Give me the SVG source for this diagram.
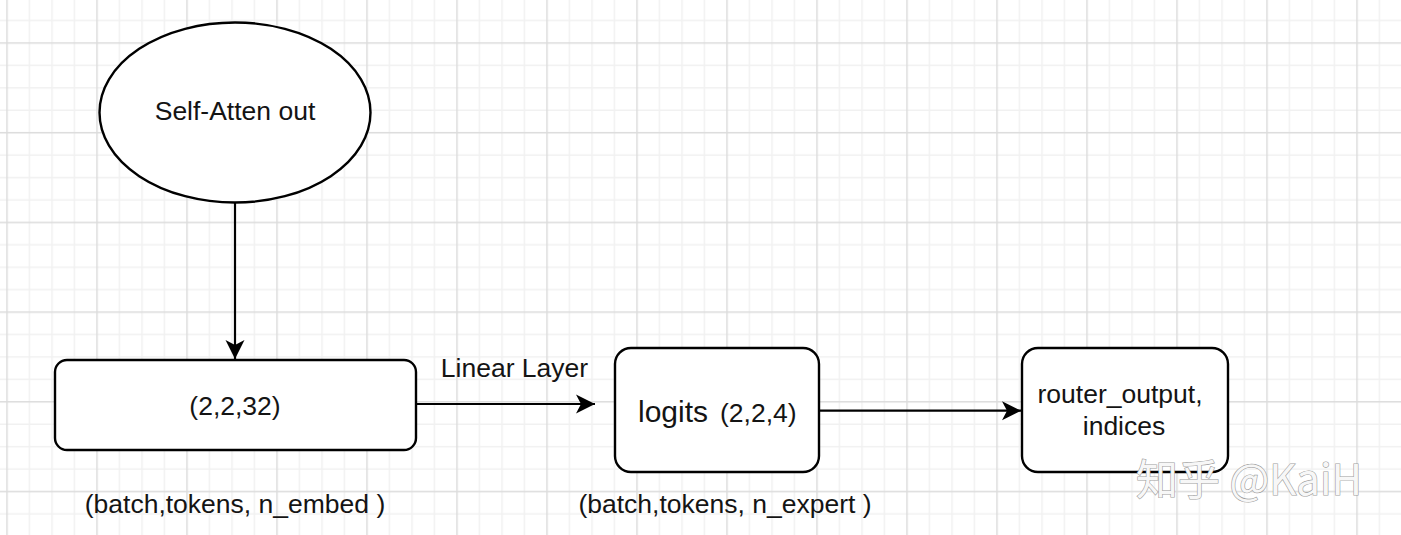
<svg xmlns="http://www.w3.org/2000/svg" width="1401" height="535" viewBox="0 0 1401 535">
  <style>
    .shape { fill: #ffffff; stroke: #000000; stroke-width: 2.4; }
    .conn { fill: none; stroke: #000000; stroke-width: 2.2; }
    .lbl { font-family: "Liberation Sans", Arial, sans-serif; font-size: 26.5px; fill: #141414; text-anchor: middle; }
    .wm { font-family: "Noto Sans CJK SC", "Liberation Sans", sans-serif; font-size: 42px; fill: #f7f7f7; stroke: #9c9c9c; stroke-width: 1.2; paint-order: stroke; }
  </style>
  <defs>
    <pattern id="grid" patternUnits="userSpaceOnUse" x="6.25" y="42.25" width="90" height="89.7">
      <rect x="22.5" y="0" width="1.5" height="89.7" fill="#f1f1f1"/>
      <rect x="45" y="0" width="1.5" height="89.7" fill="#f1f1f1"/>
      <rect x="67.5" y="0" width="1.5" height="89.7" fill="#f1f1f1"/>
      <rect x="0" y="22.425" width="90" height="1.5" fill="#f1f1f1"/>
      <rect x="0" y="44.85" width="90" height="1.5" fill="#f1f1f1"/>
      <rect x="0" y="67.275" width="90" height="1.5" fill="#f1f1f1"/>
      <rect x="0" y="0" width="1.5" height="89.7" fill="#dcdcdc"/>
      <rect x="0" y="0" width="90" height="1.5" fill="#dcdcdc"/>
    </pattern>
    <marker id="arrow" markerUnits="userSpaceOnUse" viewBox="0 0 20 20" markerWidth="20" markerHeight="20" refX="20" refY="10" orient="auto">
      <path d="M20,10 L1,0.5 L6,10 L1,19.5 Z" fill="#000000"/>
    </marker>
  </defs>

  <rect x="0" y="0" width="1401" height="535" fill="#ffffff"/>
  <rect x="0" y="0" width="1401" height="535" fill="url(#grid)"/>

  <g id="connectors">
    <path class="conn" d="M235,203 L235,359" marker-end="url(#arrow)"/>
    <path class="conn" d="M416,404 L595,404" marker-end="url(#arrow)"/>
    <text class="lbl" x="514.5" y="377">Linear Layer</text>
    <path class="conn" d="M819,410.7 L1021,410.7" marker-end="url(#arrow)"/>
  </g>

  <g id="self-atten-out">
    <ellipse class="shape" cx="235" cy="112.5" rx="135.5" ry="90"/>
    <text class="lbl" x="235" y="120">Self-Atten out</text>
  </g>

  <g id="embed-box">
    <rect class="shape" x="55" y="360" width="361" height="90" rx="12" ry="12"/>
    <text class="lbl" x="235" y="415">(2,2,32)</text>
    <text class="lbl" x="235" y="513">(batch,tokens, n_embed )</text>
  </g>

  <g id="logits-box">
    <rect class="shape" x="615" y="348" width="204" height="124" rx="16" ry="16"/>
    <text class="lbl" style="text-anchor:start" y="422"><tspan x="638" style="font-size:30px">logits</tspan><tspan x="720">(2,2,4)</tspan></text>
    <text class="lbl" x="725" y="513">(batch,tokens, n_expert )</text>
  </g>

  <g id="router-box">
    <rect class="shape" x="1022" y="348" width="206" height="124" rx="16" ry="16"/>
    <text class="lbl" x="1120" y="403">router_output,</text>
    <text class="lbl" x="1124" y="435">indices</text>
  </g>

  <g id="watermark">
    <text class="wm" x="1136" y="495">知乎 @KaiH</text>
  </g>
</svg>
